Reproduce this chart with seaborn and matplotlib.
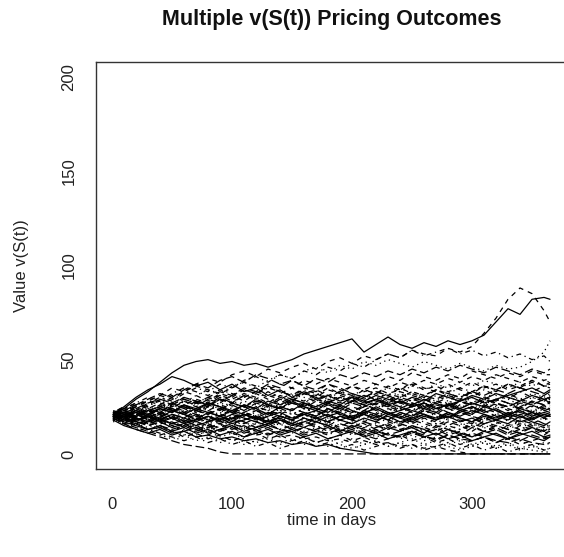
import matplotlib
matplotlib.use("Agg")
import matplotlib.pyplot as plt
import numpy as np
import pandas as pd
import seaborn as sns

# ---------------- data ----------------
days = [1, 10, 20, 30, 40, 50, 60, 70, 80, 90, 100, 110, 120, 130, 140, 150, 160, 170, 180,
        190, 200, 210, 220, 230, 240, 250, 260, 270, 280, 290, 300, 310, 320, 330, 340, 350, 360, 365]

path01 = [21,24,29,33,38,43,47,49,50,48,49,47,48,46,48,50,53,55,57,59,61,54,58,62,58,56,59,57,60,58,60,63,70,77,74,82,83,82]
path02 = [20,22,25,28,31,35,33,37,40,38,42,44,41,45,43,46,48,45,49,51,48,52,50,53,51,55,53,52,56,54,57,64,72,82,88,85,76,70]
path03 = [19,21,24,22,26,29,27,31,34,32,36,38,35,39,42,40,44,46,43,47,45,49,47,50,48,46,49,47,45,48,46,44,47,45,46,49,54,60]
path04 = [22,25,23,27,30,28,32,35,33,37,35,39,41,38,42,40,44,42,46,44,48,46,50,53,51,55,52,54,56,53,55,52,54,51,53,50,52,49]
path05 = [20,18,21,24,22,26,29,27,30,33,31,35,33,37,35,39,36,40,38,42,40,43,41,44,42,45,43,46,44,47,45,43,46,44,42,45,43,45]
path06 = [21,25,30,34,37,41,39,36,38,34,37,33,35,31,34,30,33,29,31,28,30,27,29,26,28,25,27,24,26,23,25,22,24,21,23,20,22,21]
path07 = [20,22,19,23,21,25,23,27,25,29,27,31,29,26,30,28,32,30,34,32,36,34,37,35,38,36,39,37,40,38,41,39,42,40,38,41,39,40]
path08 = [19,17,20,18,22,20,24,22,26,24,28,26,23,27,25,29,27,31,29,33,31,34,32,35,33,36,34,37,35,38,36,39,37,35,38,36,39,38]
path09 = [21,23,20,24,22,19,23,21,25,23,27,25,28,26,24,27,25,29,27,30,28,31,29,32,30,33,31,34,32,35,33,36,34,37,35,33,36,35]
path10 = [20,19,22,20,18,21,19,23,21,24,22,20,23,21,25,23,26,24,27,25,28,26,29,27,30,28,31,29,32,30,33,31,34,32,35,33,31,33]
path11 = [22,20,23,21,24,22,26,24,27,25,23,26,24,28,26,29,27,25,28,26,30,28,31,29,27,30,28,32,30,28,31,29,32,30,28,31,29,30]
path12 = [19,21,19,22,20,23,21,19,22,20,24,22,25,23,21,24,22,26,24,22,25,23,27,25,23,26,24,28,26,24,27,25,29,27,25,28,26,28]
path13 = [20,18,21,19,17,20,18,21,19,22,20,18,21,19,23,21,24,22,20,23,21,25,23,21,24,22,25,23,27,25,23,26,24,27,25,23,25,26]
path14 = [21,22,20,23,21,19,22,20,18,21,19,22,20,23,21,19,22,20,24,22,20,23,21,24,22,20,23,21,25,23,21,24,22,20,23,21,24,24]
path15 = [20,21,19,17,20,18,21,19,17,20,18,16,19,17,20,18,21,19,17,20,18,22,20,18,21,19,23,21,19,22,20,18,21,19,22,20,23,22]
path16 = [19,20,22,20,18,21,19,17,20,18,21,19,17,15,18,16,19,17,20,18,16,19,17,21,19,17,20,18,21,19,17,20,18,21,19,22,20,20]
path17 = [21,19,17,20,18,16,19,17,15,18,16,19,17,20,18,16,19,17,15,18,16,14,17,15,18,16,19,17,15,18,16,19,17,15,18,16,19,18]
path18 = [20,18,16,18,15,17,14,16,13,15,17,14,16,18,15,17,14,16,18,15,17,14,16,13,15,17,14,16,13,15,17,14,16,18,15,17,14,16]
path19 = [19,17,19,16,18,15,17,14,16,13,15,12,14,16,13,15,17,14,16,13,15,12,14,16,13,15,12,14,11,13,15,12,14,11,13,15,12,14]
path20 = [21,19,17,15,17,14,16,13,15,12,14,11,13,10,12,14,11,13,15,12,14,11,13,10,12,14,11,13,10,12,9,11,13,10,12,14,11,12]
path21 = [20,17,15,13,15,12,14,11,13,10,12,9,11,13,10,12,9,11,8,10,12,9,11,8,10,12,9,11,8,10,7,9,11,8,10,12,9,10]
path22 = [19,16,14,12,10,12,9,11,8,10,7,9,11,8,10,7,9,6,8,10,7,9,6,8,10,7,9,6,8,5,7,9,6,8,5,7,9,8]
path23 = [20,17,14,12,10,8,10,7,9,6,8,5,7,9,6,8,5,7,4,6,8,5,7,4,6,8,5,3,5,7,4,6,3,5,7,4,6,5]
path24 = [21,18,15,13,11,9,7,9,6,8,5,7,4,6,3,5,7,4,6,3,5,2,4,6,3,5,2,4,6,3,5,2,4,1,3,5,2,3]
path25 = [19,16,13,11,9,7,5,4,3,1,0,0,0,0,0,0,0,0,0,0,0,0,0,0,0,0,0,0,0,0,0,0,0,0,0,0,0,0]
path26 = [20,18,16,13,14,11,12,9,10,8,9,7,8,6,7,5,6,4,5,3,2,1,0,0,0,0,0,0,0,0,0,0,0,0,0,0,0,0]
path27 = [22,20,18,19,16,17,14,15,12,13,11,12,10,11,9,10,8,9,7,8,6,7,5,6,4,5,3,4,2,1,0,0,0,0,0,0,0,0]
path28 = [20,22,19,21,18,20,17,19,16,18,15,17,14,16,13,15,12,14,11,13,10,12,9,11,8,10,7,9,6,8,5,7,4,6,3,2,1,1]
path29 = [21,24,27,30,28,32,35,33,31,34,32,30,33,31,29,32,30,28,31,29,27,30,28,26,29,27,25,28,26,24,27,25,23,26,24,22,25,24]
path30 = [20,23,26,29,32,30,34,37,35,39,41,38,42,40,37,39,36,34,37,35,32,30,33,31,28,26,29,27,24,22,25,23,20,18,21,19,16,15]
path31 = [18,15,13,11,13,10,12,14,11,13,15,12,14,16,18,15,17,19,21,18,20,22,24,21,23,25,27,24,26,28,30,27,29,31,33,35,32,34]
path32 = [22,24,26,24,27,25,28,26,29,31,28,30,33,30,32,35,32,34,31,33,36,33,35,32,34,37,34,36,33,35,38,35,37,34,36,39,36,37]
path33 = [20,21,23,25,23,26,24,22,25,27,25,28,26,24,27,29,27,30,28,26,29,31,29,27,30,32,30,28,31,29,27,30,32,30,28,31,29,29]
path34 = [21,20,18,20,22,24,22,25,23,26,24,22,25,23,26,28,26,29,27,30,28,31,29,27,30,33,31,34,32,30,33,36,34,37,35,38,36,36]
path35 = [19,22,24,27,29,27,30,28,26,29,27,25,28,26,24,27,25,23,26,24,22,25,27,25,28,26,24,27,25,28,26,29,27,25,28,26,29,27]
path36 = [20,22,20,23,25,23,21,24,22,20,23,21,19,22,20,18,21,19,17,20,18,21,19,22,20,18,21,19,22,20,23,21,19,22,20,18,21,20]
path37 = [21,23,25,28,26,30,33,36,34,32,35,38,36,34,37,35,39,37,40,38,36,39,37,41,39,43,41,39,42,40,44,42,40,43,41,44,42,42]
path38 = [18,16,14,12,14,12,10,12,14,12,15,13,16,14,17,15,18,20,18,21,19,22,20,23,25,23,26,24,27,29,27,30,28,31,29,32,30,32]
path39 = [22,25,23,26,28,31,29,27,30,28,31,34,32,35,33,31,34,32,30,33,31,29,32,30,33,31,29,27,30,28,26,29,27,25,28,26,24,25]
path40 = [20,19,17,16,18,16,15,17,15,14,16,14,13,15,13,12,14,12,11,13,11,10,12,10,9,11,9,8,10,8,7,9,7,6,8,6,5,6]
path41 = [18,20,17,21,19,23,21,18,22,20,17,21,19,16,20,18,22,20,24,21,19,23,21,18,22,20,24,22,19,23,21,25,23,20,24,22,19,21]
path42 = [23,21,25,22,26,24,28,25,29,27,31,28,32,29,27,30,28,32,29,27,31,28,26,30,27,25,29,26,24,28,25,23,27,24,22,26,23,24]
path43 = [17,19,16,14,17,15,13,16,14,12,15,13,17,15,19,17,21,18,16,20,18,22,19,17,21,19,23,20,18,22,20,17,21,19,16,20,18,19]
path44 = [22,24,27,25,29,26,30,28,25,29,27,31,29,33,30,28,32,30,27,31,29,26,30,28,32,29,27,31,28,32,30,34,31,29,33,30,28,31]
path45 = [20,23,21,19,22,20,17,21,18,16,19,17,14,18,16,13,17,15,12,16,14,17,15,13,16,14,11,15,13,10,14,12,15,13,11,14,12,13]
path46 = [21,19,23,20,24,22,26,23,27,25,22,26,24,21,25,23,27,24,22,26,23,21,25,22,19,23,21,18,22,19,17,21,18,16,20,17,15,17]
path47 = [19,16,18,15,17,14,16,19,17,20,18,21,19,17,20,18,15,19,17,14,18,16,13,17,15,18,16,14,17,15,12,16,14,11,15,13,10,12]
path48 = [21,24,22,25,23,27,24,22,26,23,21,25,22,26,24,28,25,23,27,24,22,26,24,28,25,29,27,24,28,26,30,27,25,29,26,30,28,29]
path49 = [20,18,15,17,14,12,15,13,10,13,11,9,12,10,13,11,14,12,10,13,11,14,12,15,13,11,14,12,15,13,16,14,12,15,13,16,14,15]
path50 = [22,20,24,21,25,27,24,28,26,30,27,25,29,26,24,28,25,23,27,24,28,26,23,27,25,22,26,23,27,24,22,26,23,21,25,22,26,23]
path51 = [19,21,18,20,17,19,16,18,20,17,19,21,18,20,22,19,21,23,20,22,19,21,18,20,17,19,21,18,20,17,19,16,18,20,17,19,21,20]
path52 = [21,23,26,28,31,29,33,31,28,32,30,34,32,36,33,31,35,33,37,34,32,30,33,31,35,32,30,34,31,29,33,30,28,32,29,27,31,29]
path53 = [20,17,19,16,13,15,12,10,12,9,11,8,6,8,5,7,9,6,8,5,3,5,7,4,6,3,5,7,4,2,4,6,3,5,2,4,2,3]
path54 = [18,20,22,19,21,24,22,20,23,21,19,22,20,18,21,19,22,20,23,21,19,17,20,18,16,19,17,15,18,16,14,17,15,13,16,14,12,14]
path55 = [22,19,21,18,20,22,25,23,21,24,26,23,27,25,29,27,24,28,26,23,27,25,28,26,24,27,25,22,26,24,27,25,29,27,24,28,26,27]
path56 = [20,22,19,17,19,16,18,15,17,19,16,18,20,17,19,16,14,17,15,12,15,13,11,14,12,15,13,10,13,11,9,12,10,8,11,9,7,9]
path57 = [21,18,20,23,21,24,26,29,27,31,29,32,30,27,31,29,33,31,35,32,30,34,32,36,34,38,35,33,37,34,32,36,33,37,35,39,36,38]
path58 = [19,22,20,18,21,19,17,20,18,21,23,20,22,25,23,21,24,22,19,23,21,18,22,20,17,21,19,16,20,18,15,19,17,14,18,16,13,15]
path59 = [20,23,25,22,24,27,25,23,26,24,21,25,23,20,24,22,19,23,21,24,22,26,24,21,25,23,27,25,22,26,24,28,26,23,27,25,29,27]
path60 = [21,19,16,18,15,13,15,12,14,16,13,15,12,14,11,13,10,12,14,11,13,10,8,11,9,12,10,7,10,8,11,9,6,9,7,10,8,9]

paths = [path01, path02, path03, path04, path05, path06, path07, path08, path09, path10,
         path11, path12, path13, path14, path15, path16, path17, path18, path19, path20,
         path21, path22, path23, path24, path25, path26, path27, path28, path29, path30,
         path31, path32, path33, path34, path35, path36, path37, path38, path39, path40,
         path41, path42, path43, path44, path45, path46, path47, path48, path49, path50,
         path51, path52, path53, path54, path55, path56, path57, path58, path59, path60]

x_ticks = [0, 100, 200, 300]
y_ticks = [0, 50, 100, 150, 200]

# ---------------- long table ----------------
rows = []
for i, p in enumerate(paths):
    for d, v in zip(days, p):
        rows.append((i, d, v))
df = pd.DataFrame(rows, columns=["path", "day", "value"])

# R matplot line types cycling 1..5
r_lty = ["", (4, 4), (1, 3), (1, 3, 4, 3), (7, 3)]
dash_list = [r_lty[i % 5] for i in range(len(paths))]

# ---------------- figure ----------------
sns.set_style("white")
plt.rcParams["font.family"] = ["Liberation Sans", "DejaVu Sans"]

W, H = 564, 557
fig = plt.figure(figsize=(W / 100, H / 100), dpi=100)
ax_l, ax_r, ax_t, ax_b = 95.7, 567.5, 61.7, 469.0
ax = fig.add_axes([ax_l / W, (H - ax_b) / H, (ax_r - ax_l) / W, (ax_b - ax_t) / H])

sns.lineplot(data=df, x="day", y="value", units="path", estimator=None,
             style="path", dashes=dash_list, color="black", linewidth=0.9,
             legend=False, ax=ax)

ax.set_xlim(-13.56, 379.56)
ax.set_ylim(-8, 208)
ax.set_xticks(x_ticks)
ax.set_yticks(y_ticks)
ax.set_xticklabels([str(t) for t in x_ticks])
ax.set_yticklabels([str(t) for t in y_ticks], rotation=90, va="center")

for s in ax.spines.values():
    s.set_visible(True)
    s.set_color("#333333")
    s.set_linewidth(1.0)

ax.tick_params(axis="both", direction="out", length=8, width=1.0, color="#333333",
               labelsize=12, labelcolor="#222222")
ax.tick_params(axis="x", pad=12)
ax.tick_params(axis="y", pad=6)

ax.set_xlabel("time in days", fontsize=12, color="#222222")
ax.set_ylabel("Value v(S(t))", fontsize=12, color="#222222")
ax.xaxis.set_label_coords(0.5, (ax_b - 521) / (ax_b - ax_t))
ax.xaxis.label.set_va("center")
ax.yaxis.set_label_coords((22 - ax_l) / (ax_r - ax_l), 0.5)
ax.yaxis.label.set_va("center")

ax.set_title("Multiple v(S(t)) Pricing Outcomes", fontsize=15.5, fontweight="bold",
             y=(ax_b - 20) / (ax_b - ax_t), va="center", pad=0, color="#111111")

fig.savefig("out.png", dpi=100)
